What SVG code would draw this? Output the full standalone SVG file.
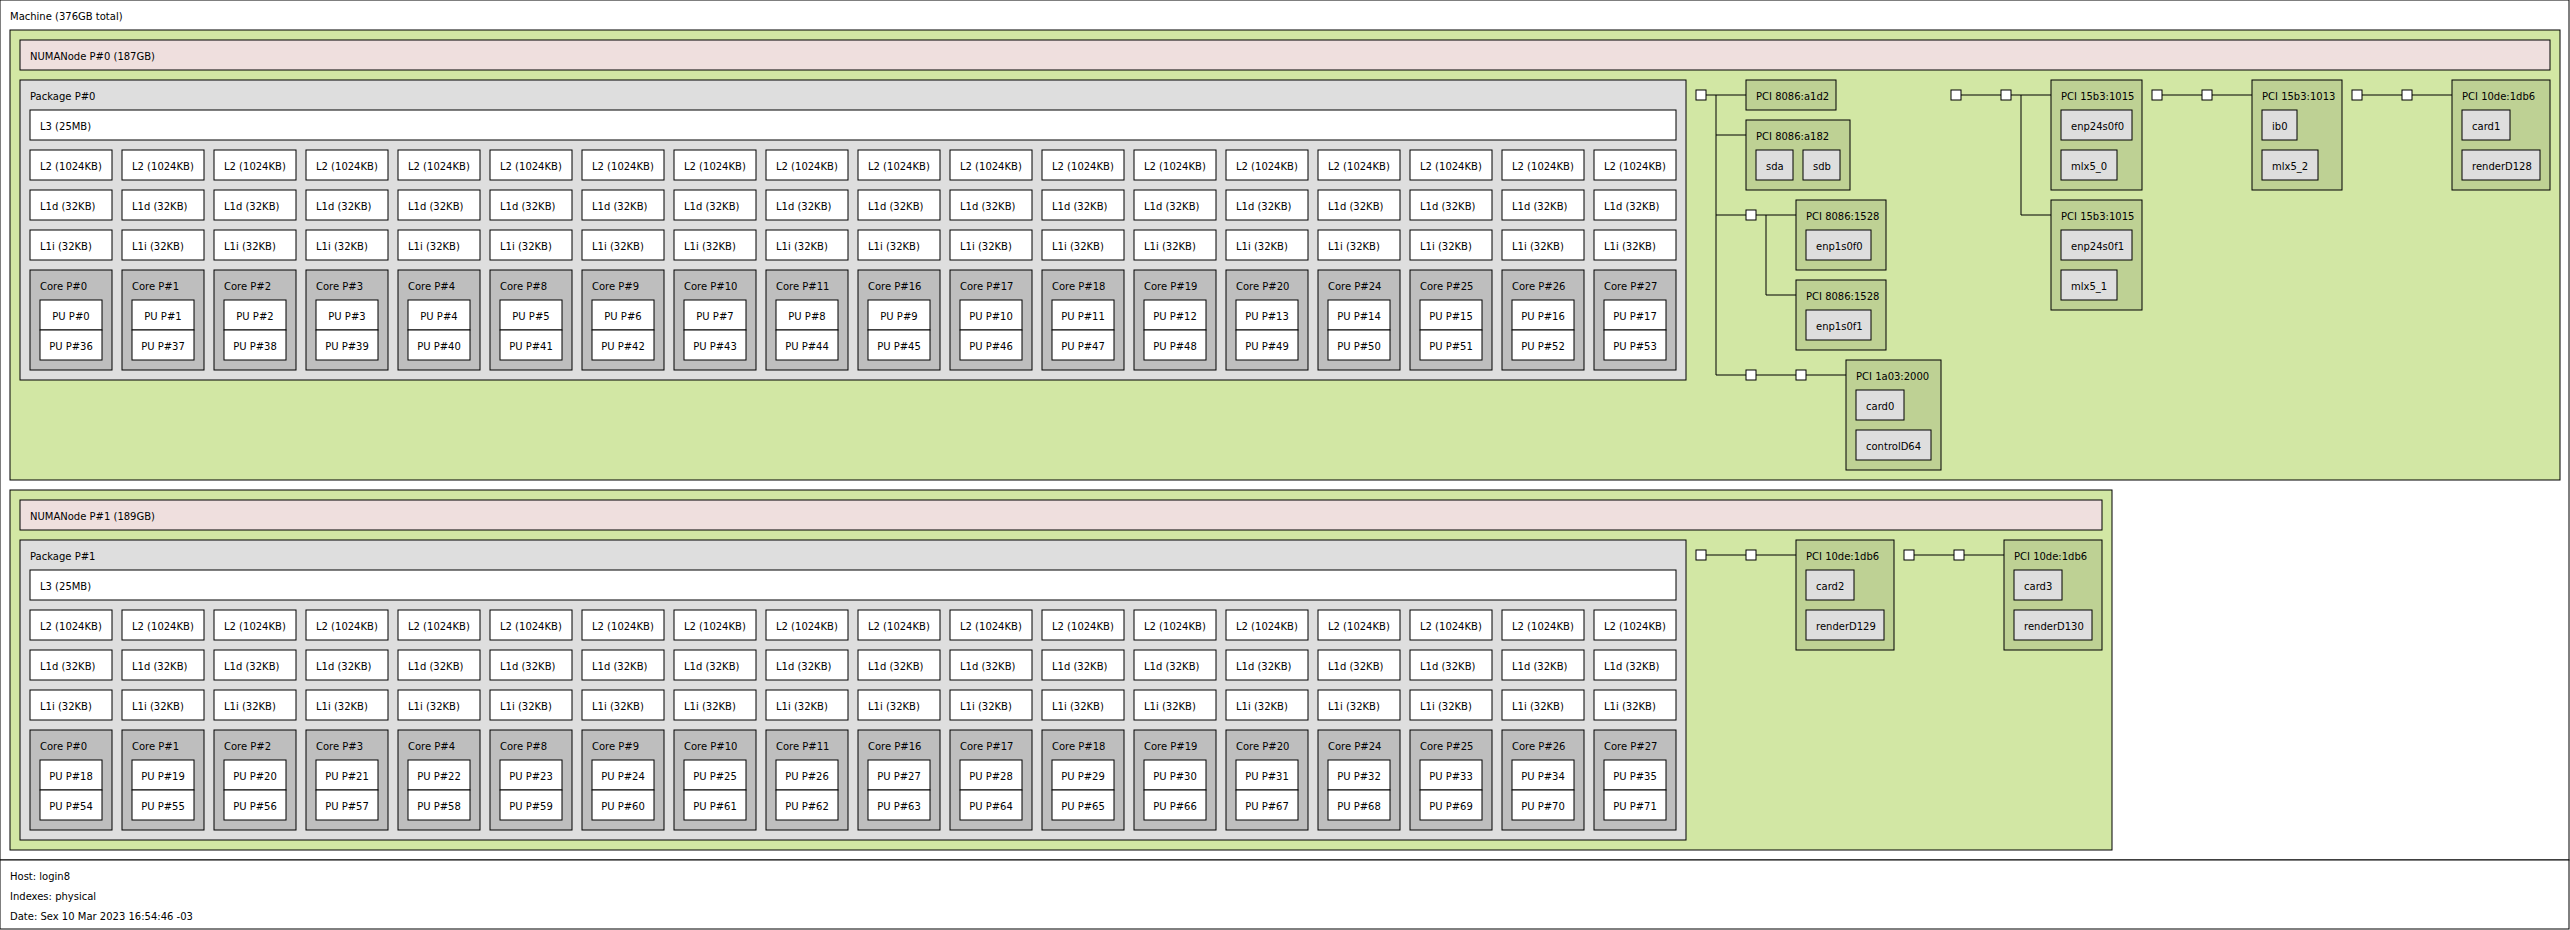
<svg xmlns="http://www.w3.org/2000/svg" width="2570" height="930" viewBox="0 0 2570 930">
<style>
rect{stroke:#000;stroke-width:1}
text{font-family:"DejaVu Sans","Liberation Sans",sans-serif;font-size:10px;fill:#000}
.c{text-anchor:middle}
.w{fill:#fff}
.gr{fill:#d2e7a4}
.nu{fill:#efdfde}
.pk{fill:#dedede}
.co{fill:#bebebe}
.pci{fill:#bed194}
.os{fill:#dedede}
.cn{stroke:#000;stroke-width:1;fill:none}
</style>
<g id="machine"><rect class="w" x="0" y="0" width="2569" height="860"/><text x="10" y="20">Machine (376GB total)</text></g>
<g id="group0"><rect class="gr" x="10" y="30" width="2550" height="450"/></g>
<g id="numa0"><rect class="nu" x="20" y="40" width="2530" height="30"/><text x="30" y="60">NUMANode P#0 (187GB)</text></g>
<g id="package0"><rect class="pk" x="20" y="80" width="1666" height="300"/><text x="30" y="100">Package P#0</text></g>
<g id="l3-0"><rect class="w" x="30" y="110" width="1646" height="30"/><text x="40" y="130">L3 (25MB)</text></g>
<g id="p0c0" transform="translate(30,0)"><rect class="w" y="150" width="82" height="30"/><text x="10" y="170">L2 (1024KB)</text><rect class="w" y="190" width="82" height="30"/><text x="10" y="210">L1d (32KB)</text><rect class="w" y="230" width="82" height="30"/><text x="10" y="250">L1i (32KB)</text><rect class="co" y="270" width="82" height="100"/><text x="10" y="290">Core P#0</text><rect class="w" x="10" y="300" width="62" height="30"/><text class="c" x="41" y="320">PU P#0</text><rect class="w" x="10" y="330" width="62" height="30"/><text class="c" x="41" y="350">PU P#36</text></g>
<g id="p0c1" transform="translate(122,0)"><rect class="w" y="150" width="82" height="30"/><text x="10" y="170">L2 (1024KB)</text><rect class="w" y="190" width="82" height="30"/><text x="10" y="210">L1d (32KB)</text><rect class="w" y="230" width="82" height="30"/><text x="10" y="250">L1i (32KB)</text><rect class="co" y="270" width="82" height="100"/><text x="10" y="290">Core P#1</text><rect class="w" x="10" y="300" width="62" height="30"/><text class="c" x="41" y="320">PU P#1</text><rect class="w" x="10" y="330" width="62" height="30"/><text class="c" x="41" y="350">PU P#37</text></g>
<g id="p0c2" transform="translate(214,0)"><rect class="w" y="150" width="82" height="30"/><text x="10" y="170">L2 (1024KB)</text><rect class="w" y="190" width="82" height="30"/><text x="10" y="210">L1d (32KB)</text><rect class="w" y="230" width="82" height="30"/><text x="10" y="250">L1i (32KB)</text><rect class="co" y="270" width="82" height="100"/><text x="10" y="290">Core P#2</text><rect class="w" x="10" y="300" width="62" height="30"/><text class="c" x="41" y="320">PU P#2</text><rect class="w" x="10" y="330" width="62" height="30"/><text class="c" x="41" y="350">PU P#38</text></g>
<g id="p0c3" transform="translate(306,0)"><rect class="w" y="150" width="82" height="30"/><text x="10" y="170">L2 (1024KB)</text><rect class="w" y="190" width="82" height="30"/><text x="10" y="210">L1d (32KB)</text><rect class="w" y="230" width="82" height="30"/><text x="10" y="250">L1i (32KB)</text><rect class="co" y="270" width="82" height="100"/><text x="10" y="290">Core P#3</text><rect class="w" x="10" y="300" width="62" height="30"/><text class="c" x="41" y="320">PU P#3</text><rect class="w" x="10" y="330" width="62" height="30"/><text class="c" x="41" y="350">PU P#39</text></g>
<g id="p0c4" transform="translate(398,0)"><rect class="w" y="150" width="82" height="30"/><text x="10" y="170">L2 (1024KB)</text><rect class="w" y="190" width="82" height="30"/><text x="10" y="210">L1d (32KB)</text><rect class="w" y="230" width="82" height="30"/><text x="10" y="250">L1i (32KB)</text><rect class="co" y="270" width="82" height="100"/><text x="10" y="290">Core P#4</text><rect class="w" x="10" y="300" width="62" height="30"/><text class="c" x="41" y="320">PU P#4</text><rect class="w" x="10" y="330" width="62" height="30"/><text class="c" x="41" y="350">PU P#40</text></g>
<g id="p0c5" transform="translate(490,0)"><rect class="w" y="150" width="82" height="30"/><text x="10" y="170">L2 (1024KB)</text><rect class="w" y="190" width="82" height="30"/><text x="10" y="210">L1d (32KB)</text><rect class="w" y="230" width="82" height="30"/><text x="10" y="250">L1i (32KB)</text><rect class="co" y="270" width="82" height="100"/><text x="10" y="290">Core P#8</text><rect class="w" x="10" y="300" width="62" height="30"/><text class="c" x="41" y="320">PU P#5</text><rect class="w" x="10" y="330" width="62" height="30"/><text class="c" x="41" y="350">PU P#41</text></g>
<g id="p0c6" transform="translate(582,0)"><rect class="w" y="150" width="82" height="30"/><text x="10" y="170">L2 (1024KB)</text><rect class="w" y="190" width="82" height="30"/><text x="10" y="210">L1d (32KB)</text><rect class="w" y="230" width="82" height="30"/><text x="10" y="250">L1i (32KB)</text><rect class="co" y="270" width="82" height="100"/><text x="10" y="290">Core P#9</text><rect class="w" x="10" y="300" width="62" height="30"/><text class="c" x="41" y="320">PU P#6</text><rect class="w" x="10" y="330" width="62" height="30"/><text class="c" x="41" y="350">PU P#42</text></g>
<g id="p0c7" transform="translate(674,0)"><rect class="w" y="150" width="82" height="30"/><text x="10" y="170">L2 (1024KB)</text><rect class="w" y="190" width="82" height="30"/><text x="10" y="210">L1d (32KB)</text><rect class="w" y="230" width="82" height="30"/><text x="10" y="250">L1i (32KB)</text><rect class="co" y="270" width="82" height="100"/><text x="10" y="290">Core P#10</text><rect class="w" x="10" y="300" width="62" height="30"/><text class="c" x="41" y="320">PU P#7</text><rect class="w" x="10" y="330" width="62" height="30"/><text class="c" x="41" y="350">PU P#43</text></g>
<g id="p0c8" transform="translate(766,0)"><rect class="w" y="150" width="82" height="30"/><text x="10" y="170">L2 (1024KB)</text><rect class="w" y="190" width="82" height="30"/><text x="10" y="210">L1d (32KB)</text><rect class="w" y="230" width="82" height="30"/><text x="10" y="250">L1i (32KB)</text><rect class="co" y="270" width="82" height="100"/><text x="10" y="290">Core P#11</text><rect class="w" x="10" y="300" width="62" height="30"/><text class="c" x="41" y="320">PU P#8</text><rect class="w" x="10" y="330" width="62" height="30"/><text class="c" x="41" y="350">PU P#44</text></g>
<g id="p0c9" transform="translate(858,0)"><rect class="w" y="150" width="82" height="30"/><text x="10" y="170">L2 (1024KB)</text><rect class="w" y="190" width="82" height="30"/><text x="10" y="210">L1d (32KB)</text><rect class="w" y="230" width="82" height="30"/><text x="10" y="250">L1i (32KB)</text><rect class="co" y="270" width="82" height="100"/><text x="10" y="290">Core P#16</text><rect class="w" x="10" y="300" width="62" height="30"/><text class="c" x="41" y="320">PU P#9</text><rect class="w" x="10" y="330" width="62" height="30"/><text class="c" x="41" y="350">PU P#45</text></g>
<g id="p0c10" transform="translate(950,0)"><rect class="w" y="150" width="82" height="30"/><text x="10" y="170">L2 (1024KB)</text><rect class="w" y="190" width="82" height="30"/><text x="10" y="210">L1d (32KB)</text><rect class="w" y="230" width="82" height="30"/><text x="10" y="250">L1i (32KB)</text><rect class="co" y="270" width="82" height="100"/><text x="10" y="290">Core P#17</text><rect class="w" x="10" y="300" width="62" height="30"/><text class="c" x="41" y="320">PU P#10</text><rect class="w" x="10" y="330" width="62" height="30"/><text class="c" x="41" y="350">PU P#46</text></g>
<g id="p0c11" transform="translate(1042,0)"><rect class="w" y="150" width="82" height="30"/><text x="10" y="170">L2 (1024KB)</text><rect class="w" y="190" width="82" height="30"/><text x="10" y="210">L1d (32KB)</text><rect class="w" y="230" width="82" height="30"/><text x="10" y="250">L1i (32KB)</text><rect class="co" y="270" width="82" height="100"/><text x="10" y="290">Core P#18</text><rect class="w" x="10" y="300" width="62" height="30"/><text class="c" x="41" y="320">PU P#11</text><rect class="w" x="10" y="330" width="62" height="30"/><text class="c" x="41" y="350">PU P#47</text></g>
<g id="p0c12" transform="translate(1134,0)"><rect class="w" y="150" width="82" height="30"/><text x="10" y="170">L2 (1024KB)</text><rect class="w" y="190" width="82" height="30"/><text x="10" y="210">L1d (32KB)</text><rect class="w" y="230" width="82" height="30"/><text x="10" y="250">L1i (32KB)</text><rect class="co" y="270" width="82" height="100"/><text x="10" y="290">Core P#19</text><rect class="w" x="10" y="300" width="62" height="30"/><text class="c" x="41" y="320">PU P#12</text><rect class="w" x="10" y="330" width="62" height="30"/><text class="c" x="41" y="350">PU P#48</text></g>
<g id="p0c13" transform="translate(1226,0)"><rect class="w" y="150" width="82" height="30"/><text x="10" y="170">L2 (1024KB)</text><rect class="w" y="190" width="82" height="30"/><text x="10" y="210">L1d (32KB)</text><rect class="w" y="230" width="82" height="30"/><text x="10" y="250">L1i (32KB)</text><rect class="co" y="270" width="82" height="100"/><text x="10" y="290">Core P#20</text><rect class="w" x="10" y="300" width="62" height="30"/><text class="c" x="41" y="320">PU P#13</text><rect class="w" x="10" y="330" width="62" height="30"/><text class="c" x="41" y="350">PU P#49</text></g>
<g id="p0c14" transform="translate(1318,0)"><rect class="w" y="150" width="82" height="30"/><text x="10" y="170">L2 (1024KB)</text><rect class="w" y="190" width="82" height="30"/><text x="10" y="210">L1d (32KB)</text><rect class="w" y="230" width="82" height="30"/><text x="10" y="250">L1i (32KB)</text><rect class="co" y="270" width="82" height="100"/><text x="10" y="290">Core P#24</text><rect class="w" x="10" y="300" width="62" height="30"/><text class="c" x="41" y="320">PU P#14</text><rect class="w" x="10" y="330" width="62" height="30"/><text class="c" x="41" y="350">PU P#50</text></g>
<g id="p0c15" transform="translate(1410,0)"><rect class="w" y="150" width="82" height="30"/><text x="10" y="170">L2 (1024KB)</text><rect class="w" y="190" width="82" height="30"/><text x="10" y="210">L1d (32KB)</text><rect class="w" y="230" width="82" height="30"/><text x="10" y="250">L1i (32KB)</text><rect class="co" y="270" width="82" height="100"/><text x="10" y="290">Core P#25</text><rect class="w" x="10" y="300" width="62" height="30"/><text class="c" x="41" y="320">PU P#15</text><rect class="w" x="10" y="330" width="62" height="30"/><text class="c" x="41" y="350">PU P#51</text></g>
<g id="p0c16" transform="translate(1502,0)"><rect class="w" y="150" width="82" height="30"/><text x="10" y="170">L2 (1024KB)</text><rect class="w" y="190" width="82" height="30"/><text x="10" y="210">L1d (32KB)</text><rect class="w" y="230" width="82" height="30"/><text x="10" y="250">L1i (32KB)</text><rect class="co" y="270" width="82" height="100"/><text x="10" y="290">Core P#26</text><rect class="w" x="10" y="300" width="62" height="30"/><text class="c" x="41" y="320">PU P#16</text><rect class="w" x="10" y="330" width="62" height="30"/><text class="c" x="41" y="350">PU P#52</text></g>
<g id="p0c17" transform="translate(1594,0)"><rect class="w" y="150" width="82" height="30"/><text x="10" y="170">L2 (1024KB)</text><rect class="w" y="190" width="82" height="30"/><text x="10" y="210">L1d (32KB)</text><rect class="w" y="230" width="82" height="30"/><text x="10" y="250">L1i (32KB)</text><rect class="co" y="270" width="82" height="100"/><text x="10" y="290">Core P#27</text><rect class="w" x="10" y="300" width="62" height="30"/><text class="c" x="41" y="320">PU P#17</text><rect class="w" x="10" y="330" width="62" height="30"/><text class="c" x="41" y="350">PU P#53</text></g>
<g id="hostbridge0a"><rect class="w" x="1696" y="90" width="10" height="10"/></g>
<g id="pci-a1d2"><rect class="pci" x="1746" y="80" width="90" height="30"/><text x="1756" y="100">PCI 8086:a1d2</text></g>
<g id="pci-a182"><rect class="pci" x="1746" y="120" width="104" height="70"/><text x="1756" y="140">PCI 8086:a182</text></g>
<g id="sda"><rect class="os" x="1756" y="150" width="37" height="30"/><text x="1766" y="170">sda</text></g>
<g id="sdb"><rect class="os" x="1803" y="150" width="37" height="30"/><text x="1813" y="170">sdb</text></g>
<g id="bridge0a"><rect class="w" x="1746" y="210" width="10" height="10"/></g>
<g id="pci-1528a"><rect class="pci" x="1796" y="200" width="90" height="70"/><text x="1806" y="220">PCI 8086:1528</text></g>
<g id="enp1s0f0"><rect class="os" x="1806" y="230" width="65" height="30"/><text x="1816" y="250">enp1s0f0</text></g>
<g id="pci-1528b"><rect class="pci" x="1796" y="280" width="90" height="70"/><text x="1806" y="300">PCI 8086:1528</text></g>
<g id="enp1s0f1"><rect class="os" x="1806" y="310" width="65" height="30"/><text x="1816" y="330">enp1s0f1</text></g>
<g id="bridge0b"><rect class="w" x="1746" y="370" width="10" height="10"/></g>
<g id="bridge0c"><rect class="w" x="1796" y="370" width="10" height="10"/></g>
<g id="pci-1a03"><rect class="pci" x="1846" y="360" width="95" height="110"/><text x="1856" y="380">PCI 1a03:2000</text></g>
<g id="card0"><rect class="os" x="1856" y="390" width="48" height="30"/><text x="1866" y="410">card0</text></g>
<g id="controlD64"><rect class="os" x="1856" y="430" width="75" height="30"/><text x="1866" y="450">controlD64</text></g>
<g id="hostbridge0b"><rect class="w" x="1951" y="90" width="10" height="10"/></g>
<g id="bridge0d"><rect class="w" x="2001" y="90" width="10" height="10"/></g>
<g id="pci-15b3-1015a"><rect class="pci" x="2051" y="80" width="91" height="110"/><text x="2061" y="100">PCI 15b3:1015</text></g>
<g id="enp24s0f0"><rect class="os" x="2061" y="110" width="71" height="30"/><text x="2071" y="130">enp24s0f0</text></g>
<g id="mlx5_0"><rect class="os" x="2061" y="150" width="56" height="30"/><text x="2071" y="170">mlx5_0</text></g>
<g id="pci-15b3-1015b"><rect class="pci" x="2051" y="200" width="91" height="110"/><text x="2061" y="220">PCI 15b3:1015</text></g>
<g id="enp24s0f1"><rect class="os" x="2061" y="230" width="71" height="30"/><text x="2071" y="250">enp24s0f1</text></g>
<g id="mlx5_1"><rect class="os" x="2061" y="270" width="56" height="30"/><text x="2071" y="290">mlx5_1</text></g>
<g id="hostbridge0c"><rect class="w" x="2152" y="90" width="10" height="10"/></g>
<g id="bridge0e"><rect class="w" x="2202" y="90" width="10" height="10"/></g>
<g id="pci-15b3-1013"><rect class="pci" x="2252" y="80" width="90" height="110"/><text x="2262" y="100">PCI 15b3:1013</text></g>
<g id="ib0"><rect class="os" x="2262" y="110" width="35" height="30"/><text x="2272" y="130">ib0</text></g>
<g id="mlx5_2"><rect class="os" x="2262" y="150" width="56" height="30"/><text x="2272" y="170">mlx5_2</text></g>
<g id="hostbridge0d"><rect class="w" x="2352" y="90" width="10" height="10"/></g>
<g id="bridge0f"><rect class="w" x="2402" y="90" width="10" height="10"/></g>
<g id="pci-10de-a"><rect class="pci" x="2452" y="80" width="98" height="110"/><text x="2462" y="100">PCI 10de:1db6</text></g>
<g id="card1"><rect class="os" x="2462" y="110" width="48" height="30"/><text x="2472" y="130">card1</text></g>
<g id="renderD128"><rect class="os" x="2462" y="150" width="78" height="30"/><text x="2472" y="170">renderD128</text></g>
<g id="group1"><rect class="gr" x="10" y="490" width="2102" height="360"/></g>
<g id="numa1"><rect class="nu" x="20" y="500" width="2082" height="30"/><text x="30" y="520">NUMANode P#1 (189GB)</text></g>
<g id="package1"><rect class="pk" x="20" y="540" width="1666" height="300"/><text x="30" y="560">Package P#1</text></g>
<g id="l3-1"><rect class="w" x="30" y="570" width="1646" height="30"/><text x="40" y="590">L3 (25MB)</text></g>
<g id="p1c0" transform="translate(30,460)"><rect class="w" y="150" width="82" height="30"/><text x="10" y="170">L2 (1024KB)</text><rect class="w" y="190" width="82" height="30"/><text x="10" y="210">L1d (32KB)</text><rect class="w" y="230" width="82" height="30"/><text x="10" y="250">L1i (32KB)</text><rect class="co" y="270" width="82" height="100"/><text x="10" y="290">Core P#0</text><rect class="w" x="10" y="300" width="62" height="30"/><text class="c" x="41" y="320">PU P#18</text><rect class="w" x="10" y="330" width="62" height="30"/><text class="c" x="41" y="350">PU P#54</text></g>
<g id="p1c1" transform="translate(122,460)"><rect class="w" y="150" width="82" height="30"/><text x="10" y="170">L2 (1024KB)</text><rect class="w" y="190" width="82" height="30"/><text x="10" y="210">L1d (32KB)</text><rect class="w" y="230" width="82" height="30"/><text x="10" y="250">L1i (32KB)</text><rect class="co" y="270" width="82" height="100"/><text x="10" y="290">Core P#1</text><rect class="w" x="10" y="300" width="62" height="30"/><text class="c" x="41" y="320">PU P#19</text><rect class="w" x="10" y="330" width="62" height="30"/><text class="c" x="41" y="350">PU P#55</text></g>
<g id="p1c2" transform="translate(214,460)"><rect class="w" y="150" width="82" height="30"/><text x="10" y="170">L2 (1024KB)</text><rect class="w" y="190" width="82" height="30"/><text x="10" y="210">L1d (32KB)</text><rect class="w" y="230" width="82" height="30"/><text x="10" y="250">L1i (32KB)</text><rect class="co" y="270" width="82" height="100"/><text x="10" y="290">Core P#2</text><rect class="w" x="10" y="300" width="62" height="30"/><text class="c" x="41" y="320">PU P#20</text><rect class="w" x="10" y="330" width="62" height="30"/><text class="c" x="41" y="350">PU P#56</text></g>
<g id="p1c3" transform="translate(306,460)"><rect class="w" y="150" width="82" height="30"/><text x="10" y="170">L2 (1024KB)</text><rect class="w" y="190" width="82" height="30"/><text x="10" y="210">L1d (32KB)</text><rect class="w" y="230" width="82" height="30"/><text x="10" y="250">L1i (32KB)</text><rect class="co" y="270" width="82" height="100"/><text x="10" y="290">Core P#3</text><rect class="w" x="10" y="300" width="62" height="30"/><text class="c" x="41" y="320">PU P#21</text><rect class="w" x="10" y="330" width="62" height="30"/><text class="c" x="41" y="350">PU P#57</text></g>
<g id="p1c4" transform="translate(398,460)"><rect class="w" y="150" width="82" height="30"/><text x="10" y="170">L2 (1024KB)</text><rect class="w" y="190" width="82" height="30"/><text x="10" y="210">L1d (32KB)</text><rect class="w" y="230" width="82" height="30"/><text x="10" y="250">L1i (32KB)</text><rect class="co" y="270" width="82" height="100"/><text x="10" y="290">Core P#4</text><rect class="w" x="10" y="300" width="62" height="30"/><text class="c" x="41" y="320">PU P#22</text><rect class="w" x="10" y="330" width="62" height="30"/><text class="c" x="41" y="350">PU P#58</text></g>
<g id="p1c5" transform="translate(490,460)"><rect class="w" y="150" width="82" height="30"/><text x="10" y="170">L2 (1024KB)</text><rect class="w" y="190" width="82" height="30"/><text x="10" y="210">L1d (32KB)</text><rect class="w" y="230" width="82" height="30"/><text x="10" y="250">L1i (32KB)</text><rect class="co" y="270" width="82" height="100"/><text x="10" y="290">Core P#8</text><rect class="w" x="10" y="300" width="62" height="30"/><text class="c" x="41" y="320">PU P#23</text><rect class="w" x="10" y="330" width="62" height="30"/><text class="c" x="41" y="350">PU P#59</text></g>
<g id="p1c6" transform="translate(582,460)"><rect class="w" y="150" width="82" height="30"/><text x="10" y="170">L2 (1024KB)</text><rect class="w" y="190" width="82" height="30"/><text x="10" y="210">L1d (32KB)</text><rect class="w" y="230" width="82" height="30"/><text x="10" y="250">L1i (32KB)</text><rect class="co" y="270" width="82" height="100"/><text x="10" y="290">Core P#9</text><rect class="w" x="10" y="300" width="62" height="30"/><text class="c" x="41" y="320">PU P#24</text><rect class="w" x="10" y="330" width="62" height="30"/><text class="c" x="41" y="350">PU P#60</text></g>
<g id="p1c7" transform="translate(674,460)"><rect class="w" y="150" width="82" height="30"/><text x="10" y="170">L2 (1024KB)</text><rect class="w" y="190" width="82" height="30"/><text x="10" y="210">L1d (32KB)</text><rect class="w" y="230" width="82" height="30"/><text x="10" y="250">L1i (32KB)</text><rect class="co" y="270" width="82" height="100"/><text x="10" y="290">Core P#10</text><rect class="w" x="10" y="300" width="62" height="30"/><text class="c" x="41" y="320">PU P#25</text><rect class="w" x="10" y="330" width="62" height="30"/><text class="c" x="41" y="350">PU P#61</text></g>
<g id="p1c8" transform="translate(766,460)"><rect class="w" y="150" width="82" height="30"/><text x="10" y="170">L2 (1024KB)</text><rect class="w" y="190" width="82" height="30"/><text x="10" y="210">L1d (32KB)</text><rect class="w" y="230" width="82" height="30"/><text x="10" y="250">L1i (32KB)</text><rect class="co" y="270" width="82" height="100"/><text x="10" y="290">Core P#11</text><rect class="w" x="10" y="300" width="62" height="30"/><text class="c" x="41" y="320">PU P#26</text><rect class="w" x="10" y="330" width="62" height="30"/><text class="c" x="41" y="350">PU P#62</text></g>
<g id="p1c9" transform="translate(858,460)"><rect class="w" y="150" width="82" height="30"/><text x="10" y="170">L2 (1024KB)</text><rect class="w" y="190" width="82" height="30"/><text x="10" y="210">L1d (32KB)</text><rect class="w" y="230" width="82" height="30"/><text x="10" y="250">L1i (32KB)</text><rect class="co" y="270" width="82" height="100"/><text x="10" y="290">Core P#16</text><rect class="w" x="10" y="300" width="62" height="30"/><text class="c" x="41" y="320">PU P#27</text><rect class="w" x="10" y="330" width="62" height="30"/><text class="c" x="41" y="350">PU P#63</text></g>
<g id="p1c10" transform="translate(950,460)"><rect class="w" y="150" width="82" height="30"/><text x="10" y="170">L2 (1024KB)</text><rect class="w" y="190" width="82" height="30"/><text x="10" y="210">L1d (32KB)</text><rect class="w" y="230" width="82" height="30"/><text x="10" y="250">L1i (32KB)</text><rect class="co" y="270" width="82" height="100"/><text x="10" y="290">Core P#17</text><rect class="w" x="10" y="300" width="62" height="30"/><text class="c" x="41" y="320">PU P#28</text><rect class="w" x="10" y="330" width="62" height="30"/><text class="c" x="41" y="350">PU P#64</text></g>
<g id="p1c11" transform="translate(1042,460)"><rect class="w" y="150" width="82" height="30"/><text x="10" y="170">L2 (1024KB)</text><rect class="w" y="190" width="82" height="30"/><text x="10" y="210">L1d (32KB)</text><rect class="w" y="230" width="82" height="30"/><text x="10" y="250">L1i (32KB)</text><rect class="co" y="270" width="82" height="100"/><text x="10" y="290">Core P#18</text><rect class="w" x="10" y="300" width="62" height="30"/><text class="c" x="41" y="320">PU P#29</text><rect class="w" x="10" y="330" width="62" height="30"/><text class="c" x="41" y="350">PU P#65</text></g>
<g id="p1c12" transform="translate(1134,460)"><rect class="w" y="150" width="82" height="30"/><text x="10" y="170">L2 (1024KB)</text><rect class="w" y="190" width="82" height="30"/><text x="10" y="210">L1d (32KB)</text><rect class="w" y="230" width="82" height="30"/><text x="10" y="250">L1i (32KB)</text><rect class="co" y="270" width="82" height="100"/><text x="10" y="290">Core P#19</text><rect class="w" x="10" y="300" width="62" height="30"/><text class="c" x="41" y="320">PU P#30</text><rect class="w" x="10" y="330" width="62" height="30"/><text class="c" x="41" y="350">PU P#66</text></g>
<g id="p1c13" transform="translate(1226,460)"><rect class="w" y="150" width="82" height="30"/><text x="10" y="170">L2 (1024KB)</text><rect class="w" y="190" width="82" height="30"/><text x="10" y="210">L1d (32KB)</text><rect class="w" y="230" width="82" height="30"/><text x="10" y="250">L1i (32KB)</text><rect class="co" y="270" width="82" height="100"/><text x="10" y="290">Core P#20</text><rect class="w" x="10" y="300" width="62" height="30"/><text class="c" x="41" y="320">PU P#31</text><rect class="w" x="10" y="330" width="62" height="30"/><text class="c" x="41" y="350">PU P#67</text></g>
<g id="p1c14" transform="translate(1318,460)"><rect class="w" y="150" width="82" height="30"/><text x="10" y="170">L2 (1024KB)</text><rect class="w" y="190" width="82" height="30"/><text x="10" y="210">L1d (32KB)</text><rect class="w" y="230" width="82" height="30"/><text x="10" y="250">L1i (32KB)</text><rect class="co" y="270" width="82" height="100"/><text x="10" y="290">Core P#24</text><rect class="w" x="10" y="300" width="62" height="30"/><text class="c" x="41" y="320">PU P#32</text><rect class="w" x="10" y="330" width="62" height="30"/><text class="c" x="41" y="350">PU P#68</text></g>
<g id="p1c15" transform="translate(1410,460)"><rect class="w" y="150" width="82" height="30"/><text x="10" y="170">L2 (1024KB)</text><rect class="w" y="190" width="82" height="30"/><text x="10" y="210">L1d (32KB)</text><rect class="w" y="230" width="82" height="30"/><text x="10" y="250">L1i (32KB)</text><rect class="co" y="270" width="82" height="100"/><text x="10" y="290">Core P#25</text><rect class="w" x="10" y="300" width="62" height="30"/><text class="c" x="41" y="320">PU P#33</text><rect class="w" x="10" y="330" width="62" height="30"/><text class="c" x="41" y="350">PU P#69</text></g>
<g id="p1c16" transform="translate(1502,460)"><rect class="w" y="150" width="82" height="30"/><text x="10" y="170">L2 (1024KB)</text><rect class="w" y="190" width="82" height="30"/><text x="10" y="210">L1d (32KB)</text><rect class="w" y="230" width="82" height="30"/><text x="10" y="250">L1i (32KB)</text><rect class="co" y="270" width="82" height="100"/><text x="10" y="290">Core P#26</text><rect class="w" x="10" y="300" width="62" height="30"/><text class="c" x="41" y="320">PU P#34</text><rect class="w" x="10" y="330" width="62" height="30"/><text class="c" x="41" y="350">PU P#70</text></g>
<g id="p1c17" transform="translate(1594,460)"><rect class="w" y="150" width="82" height="30"/><text x="10" y="170">L2 (1024KB)</text><rect class="w" y="190" width="82" height="30"/><text x="10" y="210">L1d (32KB)</text><rect class="w" y="230" width="82" height="30"/><text x="10" y="250">L1i (32KB)</text><rect class="co" y="270" width="82" height="100"/><text x="10" y="290">Core P#27</text><rect class="w" x="10" y="300" width="62" height="30"/><text class="c" x="41" y="320">PU P#35</text><rect class="w" x="10" y="330" width="62" height="30"/><text class="c" x="41" y="350">PU P#71</text></g>
<g id="hostbridge1a"><rect class="w" x="1696" y="550" width="10" height="10"/></g>
<g id="bridge1a"><rect class="w" x="1746" y="550" width="10" height="10"/></g>
<g id="pci-10de-b"><rect class="pci" x="1796" y="540" width="98" height="110"/><text x="1806" y="560">PCI 10de:1db6</text></g>
<g id="card2"><rect class="os" x="1806" y="570" width="48" height="30"/><text x="1816" y="590">card2</text></g>
<g id="renderD129"><rect class="os" x="1806" y="610" width="78" height="30"/><text x="1816" y="630">renderD129</text></g>
<g id="hostbridge1b"><rect class="w" x="1904" y="550" width="10" height="10"/></g>
<g id="bridge1b"><rect class="w" x="1954" y="550" width="10" height="10"/></g>
<g id="pci-10de-c"><rect class="pci" x="2004" y="540" width="98" height="110"/><text x="2014" y="560">PCI 10de:1db6</text></g>
<g id="card3"><rect class="os" x="2014" y="570" width="48" height="30"/><text x="2024" y="590">card3</text></g>
<g id="renderD130"><rect class="os" x="2014" y="610" width="78" height="30"/><text x="2024" y="630">renderD130</text></g>
<g id="connectors" class="cn">
<path d="M1706 95H1746M1716 95V375M1716 135H1746M1716 215H1746M1716 375H1746"/>
<path d="M1756 215H1796M1766 215V295H1796"/>
<path d="M1756 375H1796M1806 375H1846"/>
<path d="M1961 95H2001M2011 95H2051M2021 95V215H2051"/>
<path d="M2162 95H2202M2212 95H2252"/>
<path d="M2362 95H2402M2412 95H2452"/>
<path d="M1706 555H1746M1756 555H1796"/>
<path d="M1914 555H1954M1964 555H2004"/>
</g>
<g id="legend"><rect class="w" x="0" y="860" width="2569" height="69"/><text x="10" y="880">Host: login8</text><text x="10" y="900">Indexes: physical</text><text x="10" y="920">Date: Sex 10 Mar 2023 16:54:46 -03</text></g>
</svg>
